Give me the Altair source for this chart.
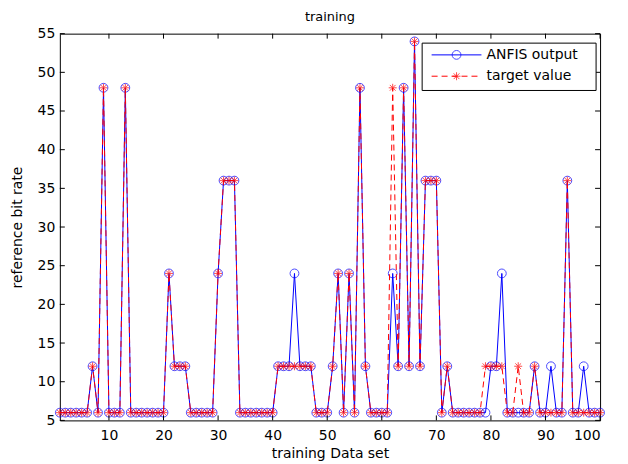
import altair as alt
import pandas as pd

# ---- data ----
idx = list(range(1, 101))
anfis = [
    6, 6, 6, 6, 6, 6, 12, 6, 48, 6,
    6, 6, 48, 6, 6, 6, 6, 6, 6, 6,
    24, 12, 12, 12, 6, 6, 6, 6, 6, 24,
    36, 36, 36, 6, 6, 6, 6, 6, 6, 6,
    12, 12, 12, 24, 12, 12, 12, 6, 6, 6,
    12, 24, 6, 24, 6, 48, 12, 6, 6, 6,
    6, 24, 12, 48, 12, 54, 12, 36, 36, 36,
    6, 12, 6, 6, 6, 6, 6, 6, 6, 12,
    12, 24, 6, 6, 6, 6, 6, 12, 6, 6,
    12, 6, 6, 36, 6, 6, 12, 6, 6, 6,
]
target = [
    6, 6, 6, 6, 6, 6, 12, 6, 48, 6,
    6, 6, 48, 6, 6, 6, 6, 6, 6, 6,
    24, 12, 12, 12, 6, 6, 6, 6, 6, 24,
    36, 36, 36, 6, 6, 6, 6, 6, 6, 6,
    12, 12, 12, 12, 12, 12, 12, 6, 6, 6,
    12, 24, 6, 24, 6, 48, 12, 6, 6, 6,
    6, 48, 12, 48, 12, 54, 12, 36, 36, 36,
    6, 12, 6, 6, 6, 6, 6, 6, 12, 12,
    12, 12, 6, 6, 12, 6, 6, 12, 6, 6,
    6, 6, 6, 36, 6, 6, 6, 6, 6, 6,
]
x_ticks = [10, 20, 30, 40, 50, 60, 70, 80, 90, 100]
y_ticks = [5, 10, 15, 20, 25, 30, 35, 40, 45, 50, 55]
legend_labels = ["ANFIS output", "target value"]

W, H = 542, 388
FONT = "DejaVu Sans"
BLUE = "#0000ff"
RED = "#ff0000"
ASTERISK = "M-1,0L1,0M0,-1L0,1M-0.72,-0.72L0.72,0.72M-0.72,0.72L0.72,-0.72"

df = pd.DataFrame({"x": idx, "anfis": anfis, "target": target})
xt = pd.DataFrame({"v": x_ticks})
yt = pd.DataFrame({"v": y_ticks})

xscale = alt.Scale(domain=[1, 100], nice=False, zero=False)
yscale = alt.Scale(domain=[5, 55], nice=False, zero=False)

XAX = alt.Axis(values=x_ticks, title="training Data set",
               labelPadding=15, labelBaseline="middle",
               titleX=W / 2, titleY=33, titleBaseline="middle")
YAX = alt.Axis(values=y_ticks, title="reference bit rate",
               labelPadding=5,
               titleX=-42, titleY=H / 2, titleAngle=-90,
               titleBaseline="middle", titleAlign="center")


def X(f):
    return alt.X(f, scale=xscale, axis=XAX, title="training Data set")


def Y(f):
    return alt.Y(f, scale=yscale, axis=YAX, title="reference bit rate")


blue_line = alt.Chart(df).mark_line(color=BLUE, strokeWidth=1).encode(
    x=X("x:Q"), y=Y("anfis:Q"))
blue_pts = alt.Chart(df).mark_point(shape="circle", filled=False, color=BLUE,
                                    size=78, strokeWidth=1).encode(
    x=X("x:Q"), y=Y("anfis:Q"))
red_line = alt.Chart(df).mark_line(color=RED, strokeWidth=1,
                                   strokeDash=[6, 4]).encode(
    x=X("x:Q"), y=Y("target:Q"))
red_pts = alt.Chart(df).mark_point(shape=ASTERISK, filled=False, color=RED,
                                   size=64, strokeWidth=1).encode(
    x=X("x:Q"), y=Y("target:Q"))

# inward ticks on all four sides
tb = alt.Chart(xt).mark_rule(color="black", strokeWidth=1).encode(
    x=X("v:Q"), y=alt.value(H), y2=alt.value(H - 5))
tt = alt.Chart(xt).mark_rule(color="black", strokeWidth=1).encode(
    x=X("v:Q"), y=alt.value(0), y2=alt.value(5))
tl = alt.Chart(yt).mark_rule(color="black", strokeWidth=1).encode(
    y=Y("v:Q"), x=alt.value(0), x2=alt.value(5))
tr = alt.Chart(yt).mark_rule(color="black", strokeWidth=1).encode(
    y=Y("v:Q"), x=alt.value(W), x2=alt.value(W - 5))

# legend
one = pd.DataFrame({"a": [0]})
lx0, lx1, ly0, ly1 = 363.5, 538, 9.5, 57
r1, r2 = 21.3, 42.7
box = alt.Chart(one).mark_rect(fill="white", stroke="black", strokeWidth=1).encode(
    x=alt.value(lx0), x2=alt.value(lx1), y=alt.value(ly0), y2=alt.value(ly1))
lg_b = alt.Chart(one).mark_rule(color=BLUE, strokeWidth=1).encode(
    x=alt.value(373), x2=alt.value(423), y=alt.value(r1))
lg_bp = alt.Chart(one).mark_point(shape="circle", filled=False, color=BLUE,
                                  size=78, strokeWidth=1).encode(
    x=alt.value(398), y=alt.value(r1))
lg_r = alt.Chart(one).mark_rule(color=RED, strokeWidth=1, strokeDash=[6, 4]).encode(
    x=alt.value(373), x2=alt.value(423), y=alt.value(r2))
lg_rp = alt.Chart(one).mark_point(shape=ASTERISK, filled=False, color=RED,
                                  size=64, strokeWidth=1).encode(
    x=alt.value(398), y=alt.value(r2))
lg_t1 = alt.Chart(one).mark_text(align="left", baseline="middle", font=FONT,
                                 fontSize=14, color="black").encode(
    x=alt.value(428), y=alt.value(r1), text=alt.value(legend_labels[0]))
lg_t2 = alt.Chart(one).mark_text(align="left", baseline="middle", font=FONT,
                                 fontSize=14, color="black").encode(
    x=alt.value(428), y=alt.value(r2), text=alt.value(legend_labels[1]))

chart = alt.layer(
    blue_line, blue_pts, red_line, red_pts, tb, tt, tl, tr,
    box, lg_b, lg_bp, lg_r, lg_rp, lg_t1, lg_t2
).properties(
    width=W, height=H,
    title=alt.TitleParams("training", font=FONT, fontSize=13,
                          fontWeight="normal", color="black", offset=3),
    autosize=alt.AutoSizeParams(type="none"),
    padding={"left": 52, "top": 25, "right": 20, "bottom": 40},
).configure_view(
    stroke="black", strokeWidth=1
).configure_axis(
    domain=False, ticks=False, grid=False,
    labelFont=FONT, labelFontSize=14, labelColor="black",
    titleFont=FONT, titleFontSize=14, titleColor="black", titleFontWeight="normal",
)

chart.save("out.html", embed_options={"renderer": "svg", "actions": False})
